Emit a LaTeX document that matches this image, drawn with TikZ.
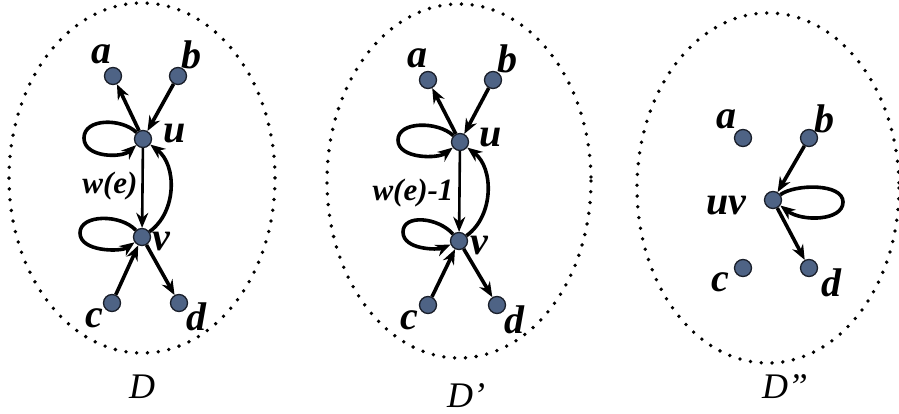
\documentclass[tikz,border=0pt]{standalone}
\usepackage{fontspec}
\setmainfont{Liberation Serif}
\usepackage{xcolor}
\usetikzlibrary{arrows.meta,positioning}
\definecolor{NodeBlue}{HTML}{4E6385}
\definecolor{DeepInk}{HTML}{1A1F2A}
\tikzset{
  vertex/.style={circle,draw=DeepInk,fill=NodeBlue,line width=1.3pt,minimum size=17pt,inner sep=0pt},
  lbl/.style={font=\fontsize{40}{40}\selectfont\bfseries\itshape,inner sep=0pt},
  wlbl/.style={font=\fontsize{31}{31}\selectfont\bfseries\itshape,inner sep=0pt},
  caption/.style={font=\fontsize{36}{36}\selectfont\itshape,inner sep=0pt},
  flow/.style={-{Stealth[length=15pt,width=12pt]},line width=3.6pt,draw=black},
  thinflow/.style={-{Stealth[length=15pt,width=12pt]},line width=2.6pt,draw=black},
  halo/.style={draw=black,line width=3.8pt,line cap=round,dash pattern=on 0pt off 10.8pt}
}
\begin{document}
\begin{tikzpicture}[x=1pt,y=-1pt]
  \useasboundingbox (0,0) rectangle (899,414);

  % ---- D ----
  \draw[halo] (142,178) ellipse [x radius=133,y radius=175];
  \node[vertex] (a1) at (113,76) {};
  \node[vertex] (b1) at (178,76) {};
  \node[vertex] (u1) at (143,139) {};
  \node[vertex] (v1) at (142,237) {};
  \node[vertex] (c1) at (112,303) {};
  \node[vertex] (d1) at (179,303) {};
  \node[lbl] (la1) at (101,54) {a};
  \node[lbl] (lb1) at (191,55) {b};
  \node[lbl] (lu1) at (175,134) {u};
  \node[lbl] (lv1) at (161,242) {v};
  \node[lbl] (lc1) at (94,318) {c};
  \node[lbl] (ld1) at (196,317) {d};
  \node[wlbl] (w1) at (110,186) {w(e)};
  \node[caption] (cap1) at (142,387) {D};

  \draw[flow] (u1) -- (a1);
  \draw[flow] (b1) -- (u1);
  \draw[thinflow] (u1) -- (v1);
  \draw[flow] (c1) -- (v1);
  \draw[flow] (v1) -- (d1);
  \draw[flow] (u1) .. controls (122,118) and (84,118) .. (84,138) .. controls (84,158) and (122,158) .. (u1);
  \draw[flow] (v1) .. controls (121,214) and (80,214) .. (80,233) .. controls (80,252) and (121,252) .. (v1);
  \draw[flow] (v1) .. controls (177,212) and (177,165) .. (u1);

  % ---- D' ----
  \draw[halo] (459,181) ellipse [x radius=132,y radius=177];
  \node[vertex] (a2) at (428,80) {};
  \node[vertex] (b2) at (493,80) {};
  \node[vertex] (u2) at (460,142) {};
  \node[vertex] (v2) at (459,241) {};
  \node[vertex] (c2) at (428,305) {};
  \node[vertex] (d2) at (497,305) {};
  \node[lbl] (la2) at (417,58) {a};
  \node[lbl] (lb2) at (507,59) {b};
  \node[lbl] (lu2) at (491,138) {u};
  \node[lbl] (lv2) at (479,246) {v};
  \node[lbl] (lc2) at (409,320) {c};
  \node[lbl] (ld2) at (514,320) {d};
  \node[wlbl] (w2) at (413,193) {w(e)-1};
  \node[caption] (cap2) at (466,396) {D'};

  \draw[flow] (u2) -- (a2);
  \draw[flow] (b2) -- (u2);
  \draw[thinflow] (u2) -- (v2);
  \draw[flow] (c2) -- (v2);
  \draw[flow] (v2) -- (d2);
  \draw[flow] (u2) .. controls (438,121) and (398,121) .. (398,140) .. controls (398,159) and (438,159) .. (u2);
  \draw[flow] (v2) .. controls (438,217) and (403,214) .. (403,232) .. controls (403,250) and (438,250) .. (v2);
  \draw[flow] (v2) .. controls (494,216) and (494,168) .. (u2);

  % ---- D'' ----
  \draw[halo] (768,188) ellipse [x radius=131,y radius=175];
  \node[vertex] (a3) at (743,138) {};
  \node[vertex] (b3) at (809,138) {};
  \node[vertex] (uv3) at (773,200) {};
  \node[vertex] (c3) at (743,268) {};
  \node[vertex] (d3) at (809,268) {};
  \node[lbl] (la3) at (726,119) {a};
  \node[lbl] (lb3) at (824,119) {b};
  \node[lbl] (luv3) at (726,206) {uv};
  \node[lbl] (lc3) at (720,282) {c};
  \node[lbl] (ld3) at (831,283) {d};
  \node[caption] (cap3) at (785,387) {D''};

  \draw[flow] (b3) -- (uv3);
  \draw[flow] (uv3) -- (d3);
  \draw[flow] (uv3) .. controls (795,184) and (843,183) .. (843,202) .. controls (843,221) and (802,222) .. (uv3);
\end{tikzpicture}
\end{document}
